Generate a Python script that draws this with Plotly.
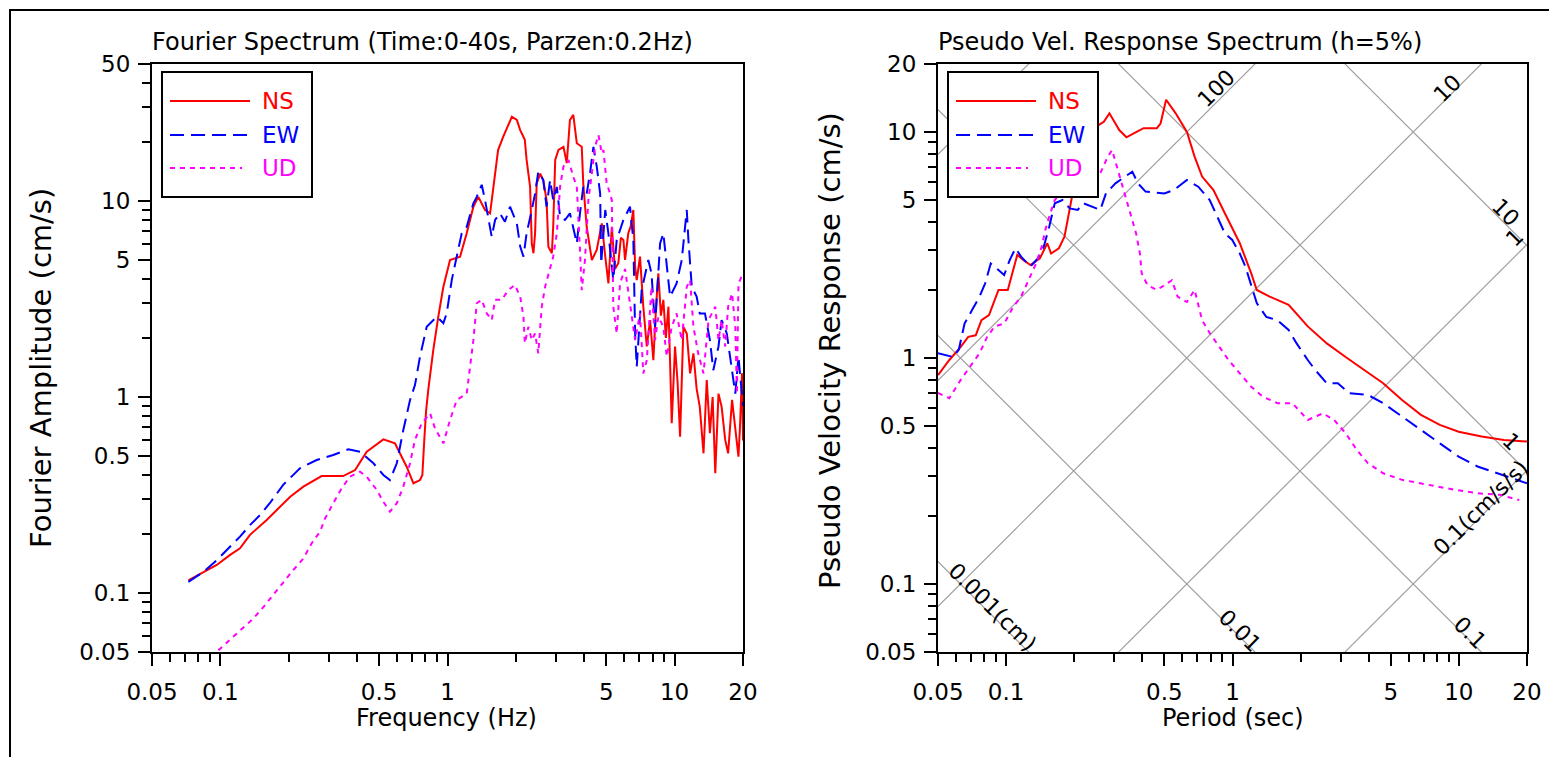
import math
import plotly.graph_objects as go

# ---------------- data: Fourier spectrum (left) ----------------
ns_freq = [0.0723, 0.0841, 0.0964, 0.110, 0.122, 0.135, 0.160, 0.203, 0.232, 0.279, 0.347, 0.392,
           0.441, 0.522, 0.587, 0.661, 0.708, 0.757, 0.775, 0.790, 0.805, 0.823, 0.866, 0.911,
           0.959, 1.026, 1.136, 1.215, 1.30, 1.367, 1.463, 1.54, 1.59, 1.67, 1.76, 1.92, 2.02,
           2.09, 2.19, 2.23, 2.31, 2.35, 2.39, 2.43, 2.47, 2.56, 2.64, 2.73, 2.78, 2.88, 2.92,
           2.98, 3.08, 3.24, 3.35, 3.46, 3.58, 3.71, 3.90, 3.96, 4.10, 4.32, 4.54, 4.78, 4.95,
           5.11, 5.29, 5.46, 5.65, 5.80, 5.95, 6.05, 6.25, 6.40, 6.58, 6.70, 6.81, 7.04, 7.28,
           7.54, 7.80, 8.06, 8.30, 8.48, 8.70, 8.92, 9.15, 9.39, 9.55, 9.71, 10.04, 10.3, 10.57,
           10.93, 11.31, 11.7, 12.1, 12.5, 12.9, 13.4, 13.85, 14.3, 14.7, 15.1, 15.6, 16.1, 16.7,
           17.2, 17.9, 18.5, 19.1, 19.4, 19.8, 20.0]
ns_amp = [0.116, 0.128, 0.139, 0.156, 0.169, 0.198, 0.236, 0.310, 0.349, 0.395, 0.395, 0.424,
          0.526, 0.608, 0.580, 0.441, 0.363, 0.377, 0.40, 0.60, 0.85, 1.09, 1.74, 2.57,
          3.65, 5.0, 5.2, 6.84, 9.35, 10.5, 9.0, 8.65, 11.8, 18.2, 21.3, 26.9, 25.9,
          23.0, 20.5, 16.2, 11.8, 6.08, 5.41, 6.84, 12.3, 13.8, 12.8, 10.1, 5.85, 5.41, 7.39,
          16.2, 18.2, 18.9, 15.6, 25.9, 27.5, 19.7, 18.9, 12.3, 7.39, 5.0, 5.62, 7.69, 5.2,
          3.80, 7.39, 4.5, 4.81, 6.5, 6.33, 5.0, 6.84, 7.4, 9.0, 4.62, 3.95, 5.2, 2.89,
          1.81, 2.47, 1.54, 3.0, 4.28, 2.6, 3.13, 2.0, 2.89, 1.5, 0.734, 1.81, 1.2, 0.628,
          2.28, 2.11, 1.32, 1.67, 1.1, 0.893, 0.516, 1.22, 0.653, 1.0, 0.408, 1.04, 0.893, 0.604,
          0.516, 0.966, 0.706, 0.496, 0.706, 1.32, 0.6]

ew_freq = [0.0723, 0.0841, 0.0964, 0.107, 0.122, 0.135, 0.1495, 0.165, 0.189, 0.224, 0.2655,
           0.314, 0.366, 0.412, 0.472, 0.522, 0.558, 0.598, 0.639, 0.684, 0.719, 0.757, 0.810,
           0.897, 0.959, 0.992, 1.044, 1.098, 1.155, 1.215, 1.30, 1.345, 1.415, 1.463, 1.513,
           1.566, 1.62, 1.70, 1.79, 1.885, 2.02, 2.09, 2.16, 2.23, 2.35, 2.43, 2.51, 2.64, 2.73,
           2.83, 2.92, 3.03, 3.13, 3.29, 3.46, 3.58, 3.71, 3.83, 3.96, 4.10, 4.24, 4.39, 4.54,
           4.70, 4.75, 4.95, 5.11, 5.37, 5.56, 5.95, 6.36, 6.58, 6.70, 6.81, 7.16, 7.66, 7.91,
           8.20, 8.63, 8.92, 9.23, 9.55, 10.2, 10.75, 11.31, 11.5, 11.9, 12.5, 12.9, 13.6, 14.3,
           14.8, 15.6, 16.1, 16.97, 17.9, 18.5, 19.1, 19.4, 20.0]
ew_amp = [0.114, 0.128, 0.147, 0.166, 0.194, 0.222, 0.250, 0.287, 0.356, 0.433, 0.477,
          0.506, 0.541, 0.526, 0.459, 0.400, 0.377, 0.459, 0.679, 0.966, 1.15, 1.61, 2.28,
          2.57, 2.38, 2.67, 3.95, 5.2, 6.84, 7.39, 9.73, 10.5, 12.1, 10.1, 8.0,
          6.57, 8.0, 8.65, 7.84, 9.35, 7.69, 5.85, 5.2, 6.84, 9.0, 10.9, 14.1, 12.8, 9.35,
          12.8, 10.1, 11.8, 8.31, 8.0, 8.65, 7.39, 6.08, 8.65, 11.8, 10.9, 13.8, 18.9, 15.0,
          10.9, 4.8, 9.0, 6.84, 3.95, 6.33, 8.0, 9.35, 6.33, 2.11, 1.43, 3.51, 5.0, 4.28,
          2.28, 6.08, 6.84, 4.62, 3.25, 3.80, 5.0, 9.0, 6.33, 3.65, 3.25, 2.67, 2.67, 1.95,
          1.37, 1.81, 2.47, 2.11, 1.32, 1.04, 1.61, 1.32, 0.9]

ud_freq = [0.098, 0.110, 0.124, 0.140, 0.155, 0.171, 0.189, 0.2094, 0.232, 0.252, 0.275, 0.289,
           0.314, 0.342, 0.372, 0.412, 0.441, 0.488, 0.522, 0.558, 0.598, 0.639, 0.684, 0.719,
           0.770, 0.838, 0.881, 0.959, 1.026, 1.098, 1.215, 1.257, 1.30, 1.345, 1.415, 1.489,
           1.566, 1.62, 1.733, 1.853, 1.98, 2.09, 2.16, 2.19, 2.27, 2.35, 2.43, 2.51, 2.60, 2.69,
           2.83, 2.92, 3.03, 3.13, 3.24, 3.41, 3.58, 3.71, 3.83, 3.90, 4.03, 4.17, 4.32, 4.46,
           4.62, 4.78, 4.86, 5.02, 5.20, 5.29, 5.37, 5.56, 5.75, 6.05, 6.36, 6.70, 7.04, 7.28,
           7.54, 7.91, 8.20, 8.48, 8.92, 9.23, 9.71, 10.2, 10.75, 11.31, 11.7, 12.1, 12.7, 13.4,
           14.1, 15.1, 15.6, 16.1, 16.7, 17.2, 17.9, 18.5, 18.8, 19.1, 19.4, 20.0]
ud_amp = [0.051, 0.0576, 0.066, 0.0743, 0.085, 0.0977, 0.114, 0.131, 0.150, 0.179, 0.206, 0.240,
          0.287, 0.342, 0.392, 0.416, 0.392, 0.336, 0.292, 0.260, 0.287, 0.349, 0.459, 0.604,
          0.734, 0.826, 0.692, 0.580, 0.763, 0.966, 1.04, 1.43, 1.95, 3.01, 3.13, 2.67,
          2.47, 3.13, 3.13, 3.51, 3.73, 3.25, 2.57, 1.88, 2.28, 1.95, 2.11, 1.67, 2.89, 3.65,
          4.62, 5.2, 6.84, 11.8, 15.0, 16.2, 13.3, 11.8, 5.62, 3.51, 5.0, 10.1, 13.8, 18.9,
          21.7, 17.5, 18.2, 12.3, 10.9, 10.1, 2.89, 2.11, 3.80, 4.5, 3.0, 1.95, 2.67, 1.32,
          1.54, 3.65, 1.95, 2.57, 2.28, 1.61, 2.28, 2.67, 1.95, 3.65, 3.95, 2.28, 1.67, 1.32,
          2.47, 2.89, 1.95, 2.47, 1.81, 2.89, 3.38, 2.28, 1.04, 3.80, 3.95, 4.3]

# ---------------- data: pseudo velocity response spectrum (right) ----------------
ns_period = [0.050, 0.0561, 0.063, 0.068, 0.0734, 0.0778, 0.084, 0.089, 0.0925, 0.1017, 0.1077,
             0.112, 0.1186, 0.128, 0.141, 0.152, 0.158, 0.171, 0.181, 0.188, 0.195, 0.207, 0.228,
             0.251, 0.270, 0.286, 0.316, 0.340, 0.375, 0.405, 0.463, 0.481, 0.509, 0.561, 0.629,
             0.680, 0.734, 0.824, 0.925, 1.077, 1.21, 1.28, 1.46, 1.77, 2.15, 2.61, 3.16, 3.82,
             4.63, 5.61, 6.80, 8.24, 9.98, 12.6, 15.8, 20.0]
ns_psv = [0.84, 0.98, 1.12, 1.24, 1.26, 1.47, 1.55, 1.81, 2.0, 2.0, 2.45,
          2.86, 2.72, 2.58, 2.76, 3.22, 2.90, 3.06, 3.44, 4.22, 5.18, 7.02, 8.91,
          10.6, 11.1, 12.1, 10.2, 9.48, 10.0, 10.4, 10.4, 10.9, 13.9, 12.1, 10.0,
          7.78, 6.35, 5.54, 4.37, 3.22, 2.37, 2.0, 1.87, 1.72, 1.38, 1.16, 1.01, 0.885,
          0.773, 0.652, 0.560, 0.506, 0.472, 0.449, 0.434, 0.427]

ew_period = [0.050, 0.0584, 0.0618, 0.0655, 0.0707, 0.0763, 0.0808, 0.0855, 0.0925, 0.098, 0.1038,
             0.110, 0.1164, 0.128, 0.138, 0.1466, 0.155, 0.164, 0.1775, 0.191, 0.207, 0.219, 0.2606,
             0.276, 0.304, 0.328, 0.361, 0.382, 0.413, 0.500, 0.551, 0.629, 0.706, 0.793, 0.855,
             0.925, 0.998, 1.077, 1.14, 1.21, 1.28, 1.41, 1.58, 1.77, 1.92, 2.15, 2.32, 2.61, 2.92,
             3.28, 3.97, 4.63, 5.61, 6.80, 8.24, 9.98, 12.1, 14.7, 17.7, 20.0]
ew_psv = [1.05, 1.01, 1.09, 1.42, 1.63, 1.87, 2.14, 2.62, 2.45, 2.33, 2.72,
          3.06, 2.81, 2.54, 2.76, 3.11, 3.81, 4.84, 5.0, 4.59, 4.52, 4.84, 4.52,
          5.35, 5.93, 6.24, 6.68, 5.93, 5.45, 5.35, 5.54, 6.13, 5.73, 5.0, 4.22,
          3.56, 3.33, 2.90, 2.54, 2.07, 1.75, 1.52, 1.47, 1.33, 1.16, 0.98, 0.885, 0.773, 0.773,
          0.698, 0.686, 0.631, 0.551, 0.481, 0.420, 0.366, 0.331, 0.309, 0.289, 0.279]

ud_period = [0.050, 0.0561, 0.063, 0.0707, 0.0763, 0.0824, 0.089, 0.098, 0.1077, 0.1164, 0.1256,
             0.1356, 0.1436, 0.149, 0.155, 0.164, 0.1775, 0.191, 0.207, 0.2234, 0.241, 0.2606,
             0.281, 0.294, 0.304, 0.321, 0.340, 0.361, 0.375, 0.390, 0.397, 0.421, 0.463, 0.500,
             0.540, 0.572, 0.629, 0.680, 0.706, 0.734, 0.793, 0.873, 0.96, 1.077, 1.21, 1.36,
             1.58, 1.84, 2.15, 2.51, 2.81, 3.16, 3.54, 3.97, 4.63, 5.61, 7.34, 9.6, 12.1, 15.2, 18.5]
ud_psv = [0.70, 0.664, 0.80, 0.948, 1.05, 1.24, 1.38, 1.42, 1.69, 1.87, 2.21,
          2.62, 3.11, 3.69, 4.22, 5.0, 5.54, 5.73, 6.13, 6.35, 6.13, 6.57,
          7.78, 8.33, 7.39, 6.13, 5.0, 4.08, 3.56, 2.90, 2.37, 2.10, 2.0, 2.10,
          2.21, 1.87, 1.77, 2.0, 1.74, 1.47, 1.29, 1.12, 0.98, 0.855, 0.746, 0.674,
          0.631, 0.631, 0.532, 0.569, 0.532, 0.465, 0.392, 0.342, 0.309, 0.289, 0.274, 0.261, 0.252, 0.248, 0.235]

# tripartite reference lines (values written on them)
tri_accel = [0.1, 1, 10, 100, 1000]      # cm/s/s
tri_disp = [0.001, 0.01, 0.1, 1, 10]     # cm

# tick labels
x_major = [0.05, 0.1, 0.5, 1, 5, 10, 20]
x_major_text = ["0.05", "0.1", "0.5", "1", "5", "10", "20"]
x_minor = [0.06, 0.07, 0.08, 0.09, 0.2, 0.3, 0.4, 0.6, 0.7, 0.8, 0.9, 2, 3, 4, 6, 7, 8, 9]
y1_major = [0.05, 0.1, 0.5, 1, 5, 10, 50]
y1_major_text = ["0.05", "0.1", "0.5", "1", "5", "10", "50"]
y1_minor = [0.06, 0.07, 0.08, 0.09, 0.2, 0.3, 0.4, 0.6, 0.7, 0.8, 0.9, 2, 3, 4, 6, 7, 8, 9, 20, 30, 40]
y2_major = [0.05, 0.1, 0.5, 1, 5, 10, 20]
y2_major_text = ["0.05", "0.1", "0.5", "1", "5", "10", "20"]
y2_minor = [0.06, 0.07, 0.08, 0.09, 0.2, 0.3, 0.4, 0.6, 0.7, 0.8, 0.9, 2, 3, 4, 6, 7, 8, 9]

series_names = ["NS", "EW", "UD"]

# ---------------- figure ----------------
W, H = 1557, 757
OFF = 8  # page body margin


def px(x):
    return (x - OFF) / W


def py(y):
    return 1 - (y - OFF) / H


RED, BLUE, MAG = "#ff0000", "#0000ff", "#ff00ff"
GRAY = "#a0a0a0"
EW_DASH = "14px,7px"
UD_DASH = "5px,5px"
LBL_FONT = "DejaVu Sans"
TICK_FONT = "DejaVu Sans"

fig = go.Figure()

# tripartite grid on the response spectrum
t_span = [0.005, 200]
for a in tri_accel:
    fig.add_trace(go.Scatter(x=t_span, y=[a * t / (2 * math.pi) for t in t_span],
                             xaxis="x2", yaxis="y2", mode="lines",
                             line=dict(color=GRAY, width=1.2), showlegend=False, hoverinfo="skip"))
for d in tri_disp:
    fig.add_trace(go.Scatter(x=t_span, y=[2 * math.pi * d / t for t in t_span],
                             xaxis="x2", yaxis="y2", mode="lines",
                             line=dict(color=GRAY, width=1.2), showlegend=False, hoverinfo="skip"))

styles = [dict(color=RED, width=2), dict(color=BLUE, width=2, dash=EW_DASH),
          dict(color=MAG, width=2, dash=UD_DASH)]

left_sets = [(ns_freq, ns_amp), (ew_freq, ew_amp), (ud_freq, ud_amp)]
right_sets = [(ns_period, ns_psv), (ew_period, ew_psv), (ud_period, ud_psv)]

for name, (xv, yv), st in zip(series_names, left_sets, styles):
    fig.add_trace(go.Scatter(x=xv, y=yv, mode="lines", name=name, line=st,
                             xaxis="x", yaxis="y", showlegend=False))
for name, (xv, yv), st in zip(series_names, right_sets, styles):
    fig.add_trace(go.Scatter(x=xv, y=yv, mode="lines", name=name, line=st,
                             xaxis="x2", yaxis="y2", showlegend=False))


def log_axis(rng, major, major_text, minor, domain, anchor, standoff):
    return dict(
        type="log", range=[math.log10(rng[0]), math.log10(rng[1])], domain=domain, anchor=anchor,
        automargin=False,
        showline=True, linecolor="black", linewidth=2, mirror=True,
        ticks="outside", ticklen=12, tickwidth=1.5, tickcolor="black",
        tickmode="array", tickvals=major, ticktext=major_text,
        minor=dict(tickmode="array", tickvals=minor, ticks="outside", ticklen=8,
                   tickwidth=1.5, tickcolor="black", showgrid=False),
        showgrid=False, zeroline=False,
        tickfont=dict(family=TICK_FONT, size=23, color="black"),
        ticklabelstandoff=standoff,
    )


ydom = [py(652), py(64)]
fig.update_layout(
    template="none",
    width=W, height=H,
    margin=dict(l=0, r=0, t=0, b=0, autoexpand=False),
    paper_bgcolor="white", plot_bgcolor="white",
    showlegend=False,
    xaxis=log_axis([0.05, 20], x_major, x_major_text, x_minor, [px(152), px(743)], "y", 6),
    yaxis=log_axis([0.05, 50], y1_major, y1_major_text, y1_minor, ydom, "x", 3),
    xaxis2=log_axis([0.05, 20], x_major, x_major_text, x_minor, [px(938), px(1527)], "y2", 6),
    yaxis2=log_axis([0.05, 20], y2_major, y2_major_text, y2_minor, ydom, "x2", 3),
)

shapes = []
annotations = []

# outer frame
shapes.append(dict(type="rect", xref="paper", yref="paper", x0=px(10), x1=1.02, y0=-0.02, y1=py(10),
                   line=dict(color="black", width=2), fillcolor="rgba(0,0,0,0)", layer="above"))


def text_ann(x, y, text, size, angle=0, color="black", xanchor="center", family=LBL_FONT):
    annotations.append(dict(x=px(x), y=py(y), xref="paper", yref="paper", text=text, showarrow=False,
                            font=dict(family=family, size=size, color=color), textangle=angle,
                            xanchor=xanchor, yanchor="middle"))


# titles
text_ann(150, 42, "Fourier Spectrum (Time:0-40s, Parzen:0.2Hz)", 24, xanchor="left")
text_ann(936, 42, "Pseudo Vel. Response Spectrum (h=5%)", 24, xanchor="left")
text_ann(447, 718, "Frequency (Hz)", 24)
text_ann(1233, 718, "Period (sec)", 24)
text_ann(41, 368, "Fourier Amplitude (cm/s)", 29, angle=-90)
text_ann(830, 351, "Pseudo Velocity Response (cm/s)", 29, angle=-90)


# legends
def legend_box(x0, y0):
    shapes.append(dict(type="rect", xref="paper", yref="paper", x0=px(x0), x1=px(x0 + 150),
                       y0=py(y0 + 125), y1=py(y0), line=dict(color="black", width=2),
                       fillcolor="white", layer="above"))
    rows = [29, 63, 96]
    colors = [RED, BLUE, MAG]
    dashes = ["solid", EW_DASH, UD_DASH]
    ends = [88, 88, 80]
    for name, r, c, dsh, e in zip(series_names, rows, colors, dashes, ends):
        shapes.append(dict(type="line", xref="paper", yref="paper", x0=px(x0 + 8), x1=px(x0 + e),
                           y0=py(y0 + r), y1=py(y0 + r), line=dict(color=c, width=2, dash=dsh),
                           layer="above"))
        text_ann(x0 + 98, y0 + r, name, 23, color=c, xanchor="left")


legend_box(162, 72)
legend_box(948, 72)

# tripartite labels
tri_labels = [
    ("100", 1216, 88, -45), ("10", 1447, 88, -45), ("1", 1515, 238, -45),
    ("0.1(cm/s/s)", 1480, 508, -45),
    ("10", 1506, 212, 45), ("1", 1511, 442, 45), ("0.1", 1470, 632, 45),
    ("0.01", 1240, 630, 45), ("0.001(cm)", 993, 607, 45),
]
for t, x, y, ang in tri_labels:
    text_ann(x, y, t, 22, angle=ang)

fig.update_layout(shapes=shapes, annotations=annotations)
fig.write_html("out.html")
